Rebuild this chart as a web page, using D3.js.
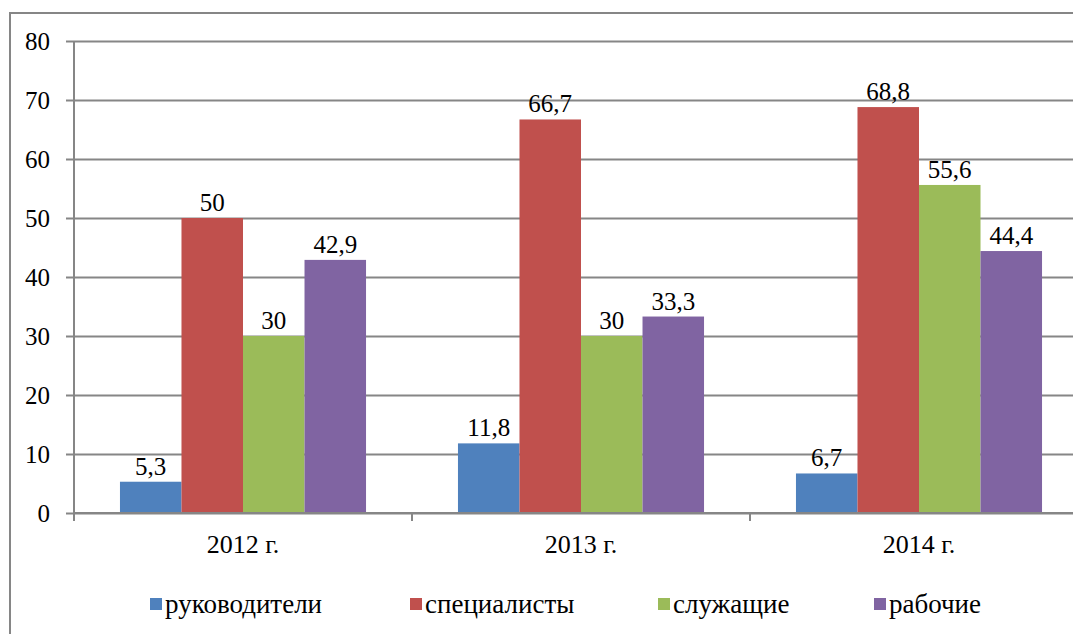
<!DOCTYPE html>
<html>
<head>
<meta charset="utf-8">
<script src="https://cdn.jsdelivr.net/npm/d3@7"></script>
<style>
  body { margin: 0; background: #fff; }
  svg text { font-family: 'Liberation Serif', Tinos, 'Times New Roman', serif !important; }
</style>
</head>
<body>
<script>
var categories = ["2012 г.", "2013 г.", "2014 г."];
var series = ["руководители", "специалисты", "служащие", "рабочие"];
var values = [
    [5.3, 50, 30, 42.9],
    [11.8, 66.7, 30, 33.3],
    [6.7, 68.8, 55.6, 44.4]
];
var labels = [
    ["5,3", "50", "30", "42,9"],
    ["11,8", "66,7", "30", "33,3"],
    ["6,7", "68,8", "55,6", "44,4"]
];
var yTicks = [0, 10, 20, 30, 40, 50, 60, 70, 80];

const COLORS = ["#4f81bd", "#c0504d", "#9bbb59", "#8064a2"];
const GRID = "#868686";
const SERIF = "Liberation Serif";
const CANVAS = { WIDTH: 1073, HEIGHT: 634 };
const PLOT = { LEFT: 74, RIGHT: 1088, TOP: 41, BOTTOM: 513 };

var svg = d3.select("body").append("svg")
    .attr("width", CANVAS.WIDTH)
    .attr("height", CANVAS.HEIGHT)
    .attr("font-family", SERIF);

// outer frame (right/bottom fall outside the picture)
svg.append("rect")
    .attr("x", 10).attr("y", 13)
    .attr("width", 1100).attr("height", 700)
    .attr("fill", "none")
    .attr("stroke", GRID)
    .attr("stroke-width", 2);

var x0 = d3.scaleBand()
    .domain(categories)
    .range([PLOT.LEFT, PLOT.RIGHT])
    .paddingInner(0.272)
    .paddingOuter(0.136);

var x1 = d3.scaleBand()
    .domain(series)
    .range([0, x0.bandwidth()]);

var y = d3.scaleLinear()
    .domain([0, 80])
    .range([PLOT.BOTTOM, PLOT.TOP]);

// gridlines + y axis
var yAxis = d3.axisLeft(y)
    .tickValues(yTicks)
    .tickSize(-(PLOT.RIGHT - PLOT.LEFT))
    .tickPadding(24)
    .tickFormat(d3.format("d"));

var gy = svg.append("g")
    .attr("transform", "translate(" + PLOT.LEFT + ",0)")
    .call(yAxis)
    .attr("font-family", SERIF)
    .attr("font-size", 25);
gy.select(".domain").remove();
gy.selectAll(".tick line")
    .attr("x1", -8)
    .attr("stroke", GRID)
    .attr("stroke-width", 2);
gy.selectAll(".tick text")
    .attr("fill", "#000");

svg.append("line")
    .attr("x1", PLOT.LEFT).attr("x2", PLOT.LEFT)
    .attr("y1", y(80)).attr("y2", y(0) + 8)
    .attr("stroke", GRID).attr("stroke-width", 2);

// bars
var groups = svg.append("g")
    .selectAll("g")
    .data(values)
    .enter()
    .append("g")
    .attr("transform", function(d, i) { return "translate(" + x0(categories[i]) + ",0)"; });

groups.selectAll("rect")
    .data(function(d) { return d; })
    .enter()
    .append("rect")
    .attr("x", function(d, j) { return x1(series[j]); })
    .attr("y", function(d) { return y(d); })
    .attr("width", x1.bandwidth())
    .attr("height", function(d) { return y(0) - y(d); })
    .attr("fill", function(d, j) { return COLORS[j]; });

groups.selectAll("text")
    .data(function(d, i) { return d.map(function(v, j) { return { v: v, t: labels[i][j] }; }); })
    .enter()
    .append("text")
    .attr("x", function(d, j) { return x1(series[j]) + x1.bandwidth() / 2; })
    .attr("y", function(d) { return y(d.v) - 7; })
    .attr("text-anchor", "middle")
    .attr("font-size", 25)
    .text(function(d) { return d.t; });

// x axis
var xAxis = d3.axisBottom(x0).tickSize(0);
var gx = svg.append("g")
    .attr("transform", "translate(0," + y(0) + ")")
    .call(xAxis)
    .attr("font-family", SERIF)
    .attr("font-size", 26);
gx.select(".domain").remove();
gx.selectAll(".tick text")
    .attr("dy", null)
    .attr("y", 40)
    .attr("fill", "#000");

svg.append("line")
    .attr("x1", PLOT.LEFT).attr("x2", PLOT.RIGHT)
    .attr("y1", y(0)).attr("y2", y(0))
    .attr("stroke", GRID).attr("stroke-width", 2);

// category separators
svg.append("g")
    .selectAll("line")
    .data(categories.slice(1))
    .enter()
    .append("line")
    .attr("x1", function(d) { return x0(d) - x0.step() * x0.paddingInner() / 2; })
    .attr("x2", function(d) { return x0(d) - x0.step() * x0.paddingInner() / 2; })
    .attr("y1", y(0)).attr("y2", y(0) + 8)
    .attr("stroke", GRID).attr("stroke-width", 2);

// legend
var legendX = [150, 410, 658, 874];
var legend = svg.append("g")
    .selectAll("g")
    .data(series)
    .enter()
    .append("g")
    .attr("transform", function(d, i) { return "translate(" + legendX[i] + ",598)"; });

legend.append("rect")
    .attr("width", 12).attr("height", 12)
    .attr("fill", function(d, i) { return COLORS[i]; });

legend.append("text")
    .attr("x", 15)
    .attr("y", 15)
    .attr("font-size", 27)
    .text(function(d) { return d; });
</script>
</body>
</html>
